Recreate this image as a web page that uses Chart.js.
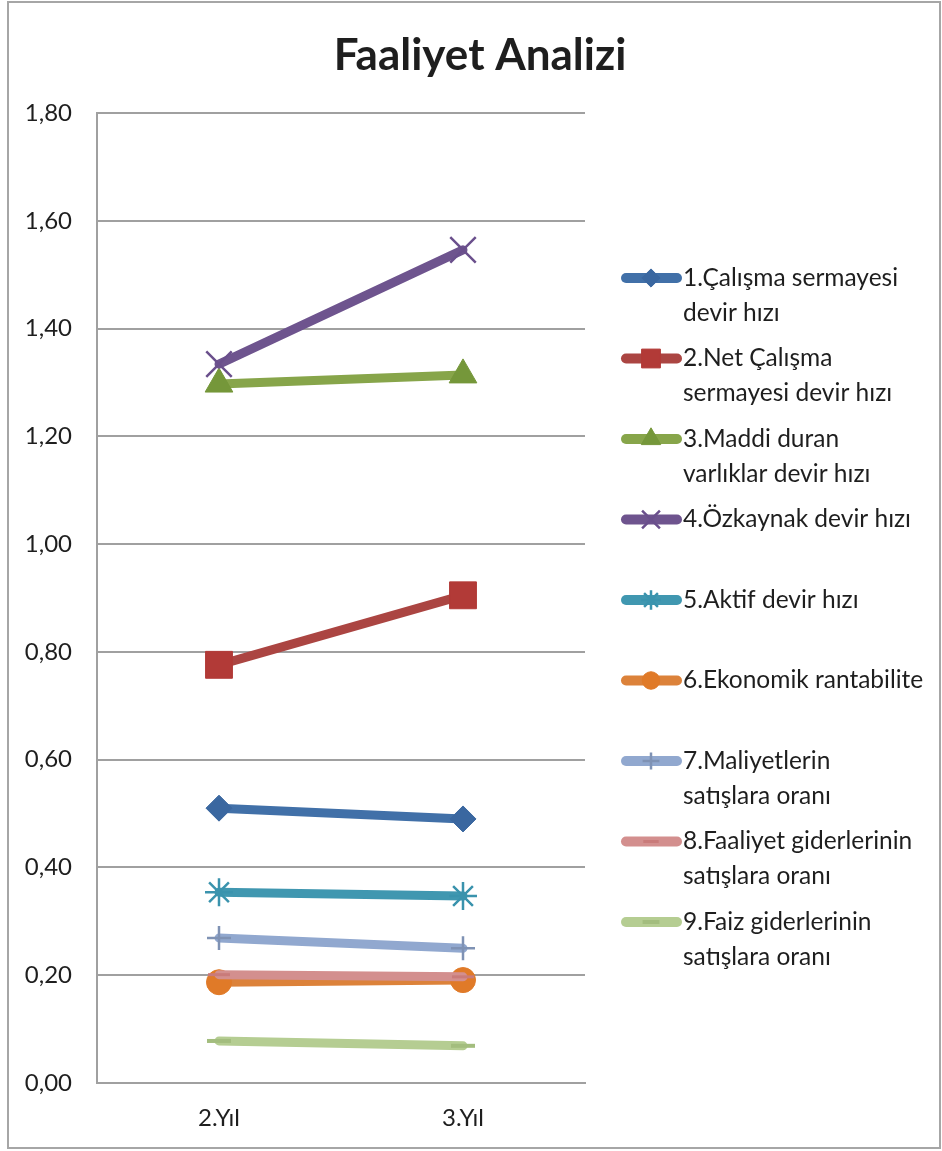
<!DOCTYPE html>
<html>
<head>
<meta charset="utf-8">
<script src="https://cdn.jsdelivr.net/npm/chart.js@4.4.0/dist/chart.umd.min.js"></script>
<style>
  html, body { margin: 0; padding: 0; background: #fff; }
  #wrap { width: 942px; height: 1151px; position: relative; }
</style>
</head>
<body>
<div id="wrap"><canvas id="chart"></canvas></div>
<script>
// values
const years = ['2.Yıl', '3.Yıl'];

const calismaSermayesi = [0.51, 0.49];
const netCalismaSermayesi = [0.776, 0.905];
const maddiDuran = [1.297, 1.314];
const ozkaynak = [1.334, 1.546];
const aktif = [0.354, 0.347];
const ekonomikRantabilite = [0.187, 0.191];
const maliyetler = [0.269, 0.25];
const faaliyetGiderleri = [0.201, 0.197];
const faizGiderleri = [0.078, 0.069];

const seriesNames = [
  ['1.Çalışma sermayesi', 'devir hızı'],
  ['2.Net Çalışma', 'sermayesi devir hızı'],
  ['3.Maddi duran', 'varlıklar devir hızı'],
  ['4.Özkaynak devir hızı'],
  ['5.Aktif devir hızı'],
  ['6.Ekonomik rantabilite'],
  ['7.Maliyetlerin', 'satışlara oranı'],
  ['8.Faaliyet giderlerinin', 'satışlara oranı'],
  ['9.Faiz giderlerinin', 'satışlara oranı']
];

const yTicks = [0, 0.2, 0.4, 0.6, 0.8, 1.0, 1.2, 1.4, 1.6, 1.8];

const FONT = 'Lato, "Open Sans", sans-serif';
const TEXT = '#1e1e1e';

function series(i, data, color, marker, style, radius, bw) {
  return {
    label: seriesNames[i].join(' '),
    data: data,
    borderColor: color,
    backgroundColor: color,
    borderWidth: 9,
    borderCapStyle: 'round',
    pointStyle: style,
    pointRadius: radius,
    pointHoverRadius: radius,
    pointBackgroundColor: marker,
    pointBorderColor: marker,
    pointBorderWidth: bw,
    order: 9 - i,
    tension: 0
  };
}

const datasets = [
  series(0, calismaSermayesi, '#4170a8', '#3a67a0', 'rectRot', 13, 1),
  series(1, netCalismaSermayesi, '#ab4542', '#b23a37', 'rect', 19, 1),
  series(2, maddiDuran, '#87a54a', '#75973a', 'triangle', 16, 1),
  series(3, ozkaynak, '#6e548e', '#6a4f8c', 'crossRot', 18, 2.5),
  series(4, aktif, '#4097b0', '#3a93ad', 'star', 14, 2.5),
  series(5, ekonomikRantabilite, '#dc823a', '#e07a28', 'circle', 12.5, 1),
  series(6, maliyetler, '#91a8cf', '#7f92b4', 'cross', 12, 2.5),
  series(7, faaliyetGiderleri, '#d38f8e', '#c97b7a', 'line', 11, 3),
  series(8, faizGiderleri, '#b5cd92', '#a3bd7e', 'line', 12, 4)
];

// title, frame and legend drawn on the canvas
const decor = {
  id: 'decor',
  beforeDraw(chart) {
    const ctx = chart.ctx;
    ctx.save();
    ctx.fillStyle = '#fff';
    ctx.fillRect(0, 0, chart.width, chart.height);
    ctx.strokeStyle = '#a6a6a6';
    ctx.lineWidth = 2;
    ctx.strokeRect(8, 2, 932, 1146);
    ctx.restore();
  },
  afterDraw(chart) {
    const ctx = chart.ctx;
    ctx.save();
    ctx.fillStyle = TEXT;
    ctx.font = 'bold 44px ' + FONT;
    ctx.textAlign = 'center';
    ctx.textBaseline = 'alphabetic';
    ctx.fillText('Faaliyet Analizi', 480, 70);

    ctx.font = '24.5px ' + FONT;
    ctx.textAlign = 'left';
    ctx.textBaseline = 'middle';
    chart.data.datasets.forEach((ds, i) => {
      const y = 278 + i * 80.5;
      ctx.strokeStyle = ds.borderColor;
      ctx.lineWidth = 10;
      ctx.lineCap = 'round';
      ctx.beginPath();
      ctx.moveTo(626, y);
      ctx.lineTo(677, y);
      ctx.stroke();
      ctx.fillStyle = ds.pointBackgroundColor;
      ctx.strokeStyle = ds.pointBorderColor;
      ctx.lineWidth = ds.pointBorderWidth;
      ctx.lineCap = 'butt';
      if (Chart.helpers && Chart.helpers.drawPoint) {
        Chart.helpers.drawPoint(ctx, {
          pointStyle: ds.pointStyle,
          radius: ds.pointRadius * 0.7,
          rotation: 0,
          borderWidth: ds.pointBorderWidth
        }, 651, y);
      }
      ctx.fillStyle = TEXT;
      seriesNames[i].forEach((line, k) => {
        ctx.fillText(line, 683, y + k * 35);
      });
    });
    ctx.restore();
  }
};

new Chart(document.getElementById('chart'), {
  type: 'line',
  data: { labels: years, datasets: datasets },
  plugins: [decor],
  options: {
    responsive: true,
    maintainAspectRatio: false,
    animation: false,
    layout: { padding: { top: 113, right: 357, bottom: 0, left: 0 } },
    plugins: {
      legend: { display: false },
      title: { display: false },
      tooltip: { enabled: false }
    },
    scales: {
      x: {
        offset: true,
        grid: { display: false, drawTicks: false },
        border: { display: true, color: '#a0a0a0', width: 2 },
        ticks: { color: TEXT, padding: 21, font: { family: FONT, size: 24 } },
        afterFit(scale) { scale.height = 68; }
      },
      y: {
        min: 0,
        max: 1.8,
        afterBuildTicks(scale) { scale.ticks = yTicks.map(v => ({ value: v })); },
        grid: { color: '#a0a0a0', lineWidth: 2, drawTicks: false },
        border: { display: true, color: '#a0a0a0', width: 2 },
        ticks: {
          color: TEXT,
          padding: 25,
          font: { family: FONT, size: 24 },
          callback: v => v.toFixed(2).replace('.', ',')
        },
        afterFit(scale) { scale.width = 97; }
      }
    }
  }
});
</script>
</body>
</html>
